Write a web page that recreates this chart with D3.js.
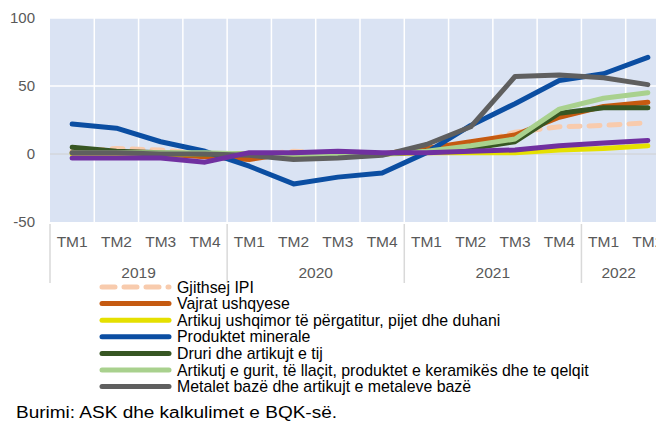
<!DOCTYPE html>
<html>
<head>
<meta charset="utf-8">
<script src="https://cdn.jsdelivr.net/npm/d3@7"></script>
<style>
  body { margin: 0; background: #fff; }
  svg { display: block; font-family: "Liberation Sans", Arial, sans-serif; }
</style>
</head>
<body>
<svg id="chart" width="656" height="421"></svg>
<script>
// quarters and years
var years = ["2019", "2020", "2021", "2022"];
var quarters = ["TM1", "TM2", "TM3", "TM4", "TM1", "TM2", "TM3", "TM4", "TM1", "TM2", "TM3", "TM4", "TM1", "TM2"];
var quarterYears = ["2019", "2019", "2019", "2019", "2020", "2020", "2020", "2020", "2021", "2021", "2021", "2021", "2022", "2022"];
var yTicks = [-50, 0, 50, 100];

// series values (%)
var gjithsejIPI   = [2, 4, 3, 0, -1, 2, 0, 0, 4, 7, 16, 20, 21, 23];
var vajrat        = [1, 0, 0, -2, -4, 1, 0, 0, 4, 9, 14, 27, 35, 38];
var ushqimor      = [0, 0, 0, 0, 0, 0, 0, 0, 1, 1, 1, 3, 4, 6];
var minerale      = [22, 19, 9, 2, -9, -22, -17, -14, 1, 21, 37, 54, 59, 71];
var druri         = [5, 2, 1, 0, 0, 0, 0, 0, 2, 4, 9, 30, 34, 34];
var gurit         = [1, 1, 1, 1, 0, 0, 0, 0, 2, 6, 11, 33, 41, 45];
var metalet       = [1, 1, 0, 0, -1, -4, -3, -1, 7, 20, 57, 58, 56, 51];
var tjeter        = [-3, -3, -3, -6, 1, 1, 2, 1, 1, 2, 3, 6, 8, 10];

var series = [
  { name: "Gjithsej IPI", values: gjithsejIPI, color: "#f8cbad", dash: "11,9", legend: true },
  { name: "Vajrat ushqyese", values: vajrat, color: "#c55a11", legend: true },
  { name: "Artikuj ushqimor të përgatitur, pijet dhe duhani", values: ushqimor, color: "#e5e000", legend: true },
  { name: "Produktet minerale", values: minerale, color: "#0b4ea2", legend: true },
  { name: "Druri dhe artikujt e tij", values: druri, color: "#375623", legend: true },
  { name: "Artikutj e gurit, të llaçit, produktet e keramikës dhe te qelqit", values: gurit, color: "#a9d18e", legend: true },
  { name: "Metalet bazë dhe artikujt e metaleve bazë", values: metalet, color: "#5f5f5f", legend: true },
  { name: "", values: tjeter, color: "#7030a0", legend: false }
];

var svg = d3.select("#chart");
var plotL = 50, plotR = 670, plotT = 18, plotB = 222;

var x = d3.scaleBand().domain(d3.range(quarters.length)).range([plotL, plotR]);
var y = d3.scaleLinear().domain([-50, 100]).range([plotB, plotT]);

// plot background
svg.append("rect")
  .attr("x", plotL).attr("y", plotT)
  .attr("width", plotR - plotL).attr("height", plotB - plotT)
  .attr("fill", "#dae3f3");

// vertical grid (band edges)
svg.append("g").selectAll("line")
  .data(d3.range(1, quarters.length))
  .join("line")
  .attr("x1", function(d) { return x(d); })
  .attr("x2", function(d) { return x(d); })
  .attr("y1", plotT).attr("y2", plotB)
  .attr("stroke", "#fff").attr("stroke-width", 1.5);

// horizontal grid
svg.append("g").selectAll("line")
  .data(yTicks.filter(function(d) { return d !== 0 && d !== -50; }))
  .join("line")
  .attr("x1", plotL).attr("x2", plotR)
  .attr("y1", function(d) { return y(d); })
  .attr("y2", function(d) { return y(d); })
  .attr("stroke", "#fff").attr("stroke-width", 1.5);

svg.append("line")
  .attr("x1", plotL).attr("x2", plotR)
  .attr("y1", y(0)).attr("y2", y(0))
  .attr("stroke", "#d0d0d0").attr("stroke-width", 1);

// y axis labels
svg.append("g").selectAll("text")
  .data(yTicks)
  .join("text")
  .attr("x", 35)
  .attr("y", function(d) { return y(d); })
  .attr("dy", "0.35em")
  .attr("text-anchor", "end")
  .attr("font-size", 15)
  .attr("fill", "#595959")
  .text(function(d) { return d; });

// quarter labels
svg.append("g").selectAll("text")
  .data(quarters)
  .join("text")
  .attr("x", function(d, i) { return x(i) + x.bandwidth() / 2; })
  .attr("y", 242)
  .attr("dy", "0.35em")
  .attr("text-anchor", "middle")
  .attr("font-size", 15.5)
  .attr("fill", "#595959")
  .text(function(d) { return d; });

// year groups
var yearRange = years.map(function(yr) {
  var idx = quarterYears.map(function(q, i) { return q === yr ? i : -1; }).filter(function(i) { return i >= 0; });
  return { year: yr, x0: x(idx[0]), x1: x(idx[idx.length - 1]) + x.bandwidth() };
});

svg.append("g").selectAll("line")
  .data(yearRange)
  .join("line")
  .attr("x1", function(d) { return d.x0; })
  .attr("x2", function(d) { return d.x0; })
  .attr("y1", plotB + 2).attr("y2", 283)
  .attr("stroke", "#d9d9d9").attr("stroke-width", 1.5);

svg.append("g").selectAll("text")
  .data(yearRange)
  .join("text")
  .attr("x", function(d) { return (d.x0 + Math.min(d.x1, 656)) / 2; })
  .attr("y", 273)
  .attr("dy", "0.35em")
  .attr("text-anchor", "middle")
  .attr("font-size", 15.5)
  .attr("fill", "#595959")
  .text(function(d) { return d.year; });

// lines
var line = d3.line()
  .x(function(d, i) { return x(i) + x.bandwidth() / 2; })
  .y(function(d) { return y(d); });

svg.append("g").selectAll("path")
  .data(series)
  .join("path")
  .attr("d", function(d) { return line(d.values); })
  .attr("fill", "none")
  .attr("stroke", function(d) { return d.color; })
  .attr("stroke-width", 5)
  .attr("stroke-linecap", "round")
  .attr("stroke-linejoin", "round")
  .attr("stroke-dasharray", function(d) { return d.dash || null; });

// legend
var legend = svg.append("g").selectAll("g")
  .data(series.filter(function(d) { return d.legend; }))
  .join("g")
  .attr("transform", function(d, i) { return "translate(0," + (287 + i * 16.6) + ")"; });

legend.append("line")
  .attr("x1", 102).attr("x2", 169)
  .attr("y1", 0).attr("y2", 0)
  .attr("stroke", function(d) { return d.color; })
  .attr("stroke-width", 5)
  .attr("stroke-linecap", "round")
  .attr("stroke-dasharray", function(d) { return d.dash ? "13,9" : null; });

legend.append("text")
  .attr("x", 177).attr("y", 0)
  .attr("dy", "0.35em")
  .attr("font-size", 15.9)
  .attr("fill", "#000")
  .text(function(d) { return d.name; });

// source
svg.append("text")
  .attr("x", 16).attr("y", 412)
  .attr("dy", "0.35em")
  .attr("font-size", 16)
  .attr("textLength", 321)
  .attr("lengthAdjust", "spacingAndGlyphs")
  .attr("fill", "#000")
  .text("Burimi: ASK dhe kalkulimet e BQK-së.");
</script>
</body>
</html>
